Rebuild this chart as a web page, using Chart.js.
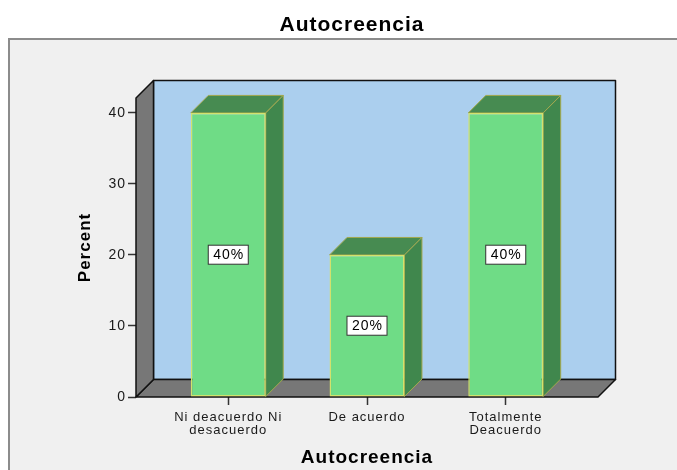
<!doctype html>
<html>
<head>
<title>Autocreencia</title>
<script src="https://cdn.jsdelivr.net/npm/chart.js@4"></script>
<style>
	body { margin: 0; background: #fff; }
	#wrap { width: 677px; height: 470px; }
</style>
</head>
<body>
<div id="wrap"><canvas id="canvas"></canvas></div>
<script>
	// data
	var chartTitle = 'Autocreencia';
	var categories = [['Ni deacuerdo Ni', 'desacuerdo'], 'De acuerdo', ['Totalmente', 'Deacuerdo']];
	var percents = [40, 20, 40];
	var yTicks = [0, 10, 20, 30, 40];
	var yMax = 42.1;
	var xMin = -0.665, xMax = 2.665;

	var DEPTH = 17.5;
	var SPACING = '1px';

	function poly(ctx, pts, fill, stroke, lw) {
		ctx.beginPath();
		ctx.moveTo(pts[0][0], pts[0][1]);
		for (var i = 1; i < pts.length; i++) ctx.lineTo(pts[i][0], pts[i][1]);
		ctx.closePath();
		ctx.fillStyle = fill;
		ctx.fill();
		ctx.strokeStyle = stroke;
		ctx.lineWidth = lw;
		ctx.stroke();
	}

	var threeD = {
		id: 'threeD',
		beforeLayout: function(chart) {
			chart.ctx.letterSpacing = SPACING;
		},
		beforeDraw: function(chart) {
			var ctx = chart.ctx;
			ctx.letterSpacing = SPACING;
			ctx.save();
			ctx.fillStyle = '#fff';
			ctx.fillRect(0, 0, chart.width, chart.height);
			ctx.fillStyle = '#f0f0f0';
			ctx.fillRect(9, 39, chart.width, chart.height);
			ctx.strokeStyle = '#8c8c8c';
			ctx.lineWidth = 2;
			ctx.strokeRect(9, 39, chart.width, chart.height);
			ctx.fillStyle = '#000';
			ctx.font = 'bold 21px Arial';
			ctx.textAlign = 'center';
			ctx.textBaseline = 'alphabetic';
			ctx.fillText(chartTitle, 352, 31);
			ctx.restore();
		},
		beforeDatasetsDraw: function(chart) {
			var ctx = chart.ctx, a = chart.chartArea, y = chart.scales.y;
			var d = DEPTH;
			var y0 = y.getPixelForValue(0);
			ctx.save();
			ctx.lineJoin = 'round';
			// back wall
			poly(ctx, [[a.left + d, a.top - d], [a.right + d, a.top - d], [a.right + d, y0 - d], [a.left + d, y0 - d]], '#abcfee', '#111', 1.5);
			// floor
			poly(ctx, [[a.left, y0], [a.right, y0], [a.right + d, y0 - d], [a.left + d, y0 - d]], '#777777', '#111', 1.5);
			// side wall
			poly(ctx, [[a.left, a.top], [a.left + d, a.top - d], [a.left + d, y0 - d], [a.left, y0]], '#777777', '#111', 1.5);
			// bar tops and sides
			chart.getDatasetMeta(0).data.forEach(function(bar) {
				var p = bar.getProps(['x', 'y', 'width', 'base']);
				var l = p.x - p.width / 2, r = p.x + p.width / 2;
				poly(ctx, [[l, p.y], [r, p.y], [r + d, p.y - d], [l + d, p.y - d]], '#478b51', '#a3a84e', 1);
				poly(ctx, [[r, p.y], [r + d, p.y - d], [r + d, p.base - d], [r, p.base]], '#40874d', '#a3a84e', 1);
			});
			ctx.restore();
		},
		afterDatasetsDraw: function(chart) {
			var ctx = chart.ctx;
			ctx.save();
			ctx.font = '14px Arial';
			ctx.textAlign = 'center';
			ctx.textBaseline = 'middle';
			chart.getDatasetMeta(0).data.forEach(function(bar, i) {
				var p = bar.getProps(['x', 'y', 'base']);
				var cy = (p.y + p.base) / 2;
				var txt = percents[i] + '%';
				var w = ctx.measureText(txt).width + 9;
				ctx.fillStyle = '#fff';
				ctx.fillRect(p.x - w / 2, cy - 9.5, w, 19);
				ctx.strokeStyle = '#333';
				ctx.lineWidth = 1;
				ctx.strokeRect(p.x - w / 2, cy - 9.5, w, 19);
				ctx.fillStyle = '#000';
				ctx.fillText(txt, p.x + 0.5, cy + 0.5);
			});
			ctx.restore();
		}
	};

	var config = {
		type: 'bar',
		data: {
			datasets: [{
				data: percents.map(function(v, i) { return {x: i, y: v}; }),
				backgroundColor: '#6fdc86',
				borderColor: '#d2e26c',
				borderWidth: 1.5,
				borderSkipped: false,
				categoryPercentage: 1,
				barPercentage: 0.54
			}]
		},
		options: {
			responsive: true,
			maintainAspectRatio: false,
			animation: false,
			layout: {
				padding: {left: 70, right: 79, top: 98, bottom: 0}
			},
			plugins: {
				legend: {display: false},
				tooltip: {enabled: false},
				title: {display: false}
			},
			scales: {
				x: {
					type: 'linear',
					min: xMin,
					max: xMax,
					offset: false,
					afterFit: function(s) { s.height = 73; },
					afterBuildTicks: function(s) {
						s.ticks = categories.map(function(c, i) { return {value: i}; });
					},
					grid: {offset: false, drawOnChartArea: false, tickLength: 8, tickColor: '#333', tickWidth: 1.5},
					border: {display: false},
					ticks: {
						autoSkip: false,
						maxRotation: 0,
						padding: 6,
						color: '#1a1a1a',
						font: {family: 'Arial', size: 13, lineHeight: 1.0},
						callback: function(v) { return categories[v]; }
					},
					title: {
						display: true,
						text: 'Autocreencia',
						color: '#000',
						font: {family: 'Arial', size: 19, weight: 'bold'},
						padding: {top: 0, bottom: 1}
					}
				},
				y: {
					min: 0,
					max: yMax,
					afterFit: function(s) { s.width = 66; },
					afterBuildTicks: function(s) {
						s.ticks = yTicks.map(function(v) { return {value: v}; });
					},
					grid: {drawOnChartArea: false, tickLength: 8, tickColor: '#333', tickWidth: 1.5},
					border: {display: false},
					ticks: {
						padding: 2,
						color: '#1a1a1a',
						font: {family: 'Arial', size: 14}
					},
					title: {
						display: true,
						text: 'Percent',
						color: '#000',
						font: {family: 'Arial', size: 17, weight: 'bold'},
						padding: {top: 5, bottom: 0}
					}
				}
			}
		},
		plugins: [threeD]
	};

	window.onload = function() {
		var ctx = document.getElementById('canvas').getContext('2d');
		window.myBar = new Chart(ctx, config);
	};
</script>
</body>
</html>
